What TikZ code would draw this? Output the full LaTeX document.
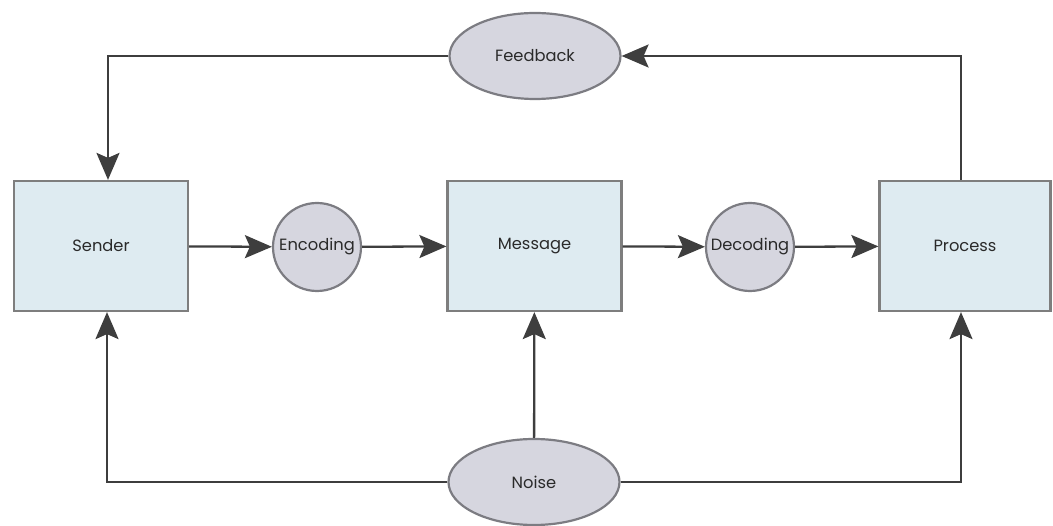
\documentclass[tikz,border=0pt]{standalone}
\usepackage{fontspec}
\setmainfont{Poppins}
\usetikzlibrary{arrows.meta,shapes.geometric,calc}
\definecolor{boxfill}{HTML}{DEEBF1}
\definecolor{boxline}{HTML}{7E7E7E}
\definecolor{ovfill}{HTML}{D6D6DF}
\definecolor{ovline}{HTML}{7C7C82}
\definecolor{arrcol}{HTML}{3E3E3E}
\definecolor{txtcol}{HTML}{2A2A2A}
\tikzset{
  boxnode/.style={rectangle, draw=boxline, fill=boxfill, line width=2.2pt,
    minimum width=174pt, minimum height=130pt, inner sep=0pt,
    font=\fontsize{16.3}{18}\selectfont, text=txtcol},
  circnode/.style={circle, draw=ovline, fill=ovfill, line width=2.2pt,
    minimum size=88pt, inner sep=0pt, font=\fontsize{16.3}{18}\selectfont, text=txtcol},
  ovnode/.style={ellipse, draw=ovline, fill=ovfill, line width=2.2pt,
    minimum width=171pt, minimum height=86pt, inner sep=0pt,
    font=\fontsize{16.3}{18}\selectfont, text=txtcol},
  arr/.style={draw=arrcol, line width=2.3pt,
    -{Stealth[length=27pt, width=23pt, inset=5pt]}},
  plain/.style={draw=arrcol, line width=2.3pt}
}
\begin{document}
\begin{tikzpicture}[x=1pt,y=-1pt]
\useasboundingbox (0,0) rectangle (1053,526);
\node[boxnode] (sender) at (101,246) {Sender};
\node[circnode] (encoding) at (317,247) {Encoding};
\node[boxnode] (message) at (534.5,246) {Message};
\node[circnode] (decoding) at (750,247) {Decoding};
\node[boxnode, minimum width=171pt] (process) at (965,246) {Process};
\node[ovnode] (feedback) at (535,56) {Feedback};
\node[ovnode] (noise) at (534,482) {Noise};

\draw[arr] (sender) -- (encoding);
\draw[arr] (encoding) -- (message);
\draw[arr] (message) -- (decoding);
\draw[arr] (decoding) -- (process);

\draw[arr] ([xshift=-4pt]process.north) |- (feedback);
\draw[arr] (feedback) -| ([xshift=7pt]sender.north);

\draw[arr] (noise) -| ([xshift=6pt]sender.south);
\draw[arr] (noise) -- (message);
\draw[arr] (noise) -| ([xshift=-4pt]process.south);
\end{tikzpicture}
\end{document}
